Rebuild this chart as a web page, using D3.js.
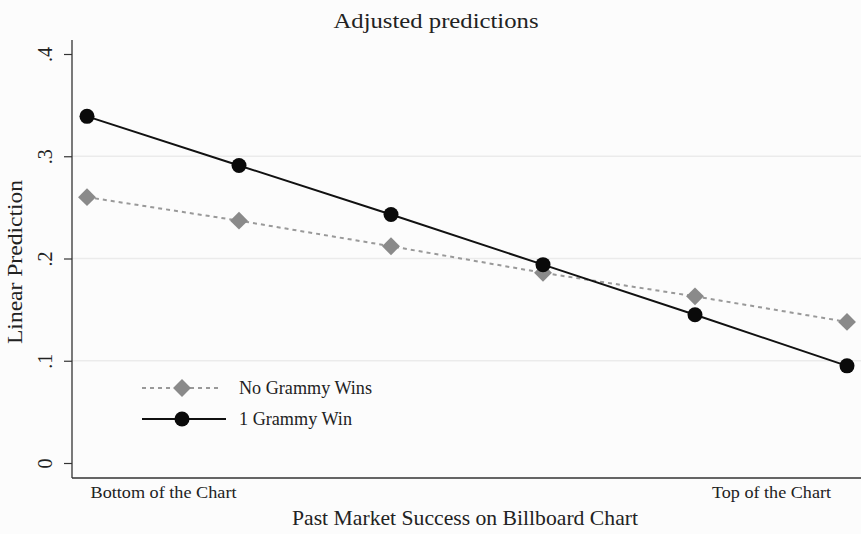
<!DOCTYPE html>
<html>
<head>
<meta charset="utf-8">
<script src="https://cdn.jsdelivr.net/npm/d3@7"></script>
<style>
  body { margin: 0; background: #fcfcfc; }
  text { font-family: "Liberation Serif", "DejaVu Serif", serif; fill: #222; }
</style>
</head>
<body>
<div id="chart"></div>
<script>
// chart data
var positions = [1, 2, 3, 4, 5, 6];
var noGrammy = [0.260, 0.237, 0.212, 0.186, 0.163, 0.138];
var oneGrammy = [0.339, 0.291, 0.243, 0.194, 0.145, 0.095];
var yTicks = [0, 0.1, 0.2, 0.3, 0.4];
var gridTicks = [0.1, 0.2, 0.3];
var xTickVals = [1.5, 5.5];
var xTickLabels = ["Bottom of the Chart", "Top of the Chart"];
var seriesNames = ["No Grammy Wins", "1 Grammy Win"];

var svgWidth = 861;
var svgHeight = 534;

var svg = d3.select("#chart")
    .append("svg")
    .attr("width", svgWidth)
    .attr("height", svgHeight);

var axisLeftX = 72;
var axisBottomY = 478;

var xScale = d3.scaleLinear().domain([1, 6]).range([87, 847]);
var yScale = d3.scaleLinear().domain([0, 0.4]).range([463, 54]);

// gridlines
svg.append("g").selectAll("line")
    .data(gridTicks)
    .enter()
    .append("line")
    .attr("x1", axisLeftX)
    .attr("x2", svgWidth)
    .attr("y1", d => yScale(d))
    .attr("y2", d => yScale(d))
    .attr("stroke", "#ebebeb")
    .attr("stroke-width", 1.5);

// y axis
var yAxis = svg.append("g")
    .attr("transform", `translate(${axisLeftX},0)`)
    .call(d3.axisLeft(yScale).tickValues(yTicks).tickSize(8).tickSizeOuter(0)
        .tickFormat(d => d === 0 ? "0" : d3.format(".1f")(d).replace(/^0/, "")));
yAxis.select(".domain").remove();
yAxis.selectAll(".tick line").attr("stroke", "#333").attr("stroke-width", 1.2);
yAxis.selectAll(".tick text")
    .attr("font-size", 20)
    .attr("font-family", "Liberation Serif")
    .attr("fill", "#222")
    .attr("transform", "rotate(-90)")
    .attr("x", 0)
    .attr("y", -20)
    .attr("dy", 0)
    .attr("text-anchor", "middle");
svg.append("line")
    .attr("x1", axisLeftX).attr("x2", axisLeftX)
    .attr("y1", 40).attr("y2", axisBottomY)
    .attr("stroke", "#333").attr("stroke-width", 1.3);

// x axis
var xAxis = svg.append("g")
    .attr("transform", `translate(0,${axisBottomY})`)
    .call(d3.axisBottom(xScale).tickValues(xTickVals).tickSize(0)
        .tickFormat((d, i) => xTickLabels[i]));
xAxis.select(".domain").remove();
xAxis.selectAll(".tick text")
    .attr("font-size", 17)
    .attr("font-family", "Liberation Serif")
    .attr("fill", "#222")
    .attr("y", 20)
    .attr("dy", 0)
    .attr("textLength", (d, i) => [146, 119][i])
    .attr("lengthAdjust", "spacingAndGlyphs");
svg.append("line")
    .attr("x1", axisLeftX).attr("x2", svgWidth)
    .attr("y1", axisBottomY).attr("y2", axisBottomY)
    .attr("stroke", "#333").attr("stroke-width", 1.3);

// titles
svg.append("text")
    .attr("x", 436).attr("y", 28)
    .attr("text-anchor", "middle")
    .attr("font-size", 21)
    .attr("textLength", 205)
    .attr("lengthAdjust", "spacingAndGlyphs")
    .text("Adjusted predictions");

svg.append("text")
    .attr("transform", "translate(22,262) rotate(-90)")
    .attr("text-anchor", "middle")
    .attr("font-size", 20)
    .attr("textLength", 164)
    .attr("lengthAdjust", "spacingAndGlyphs")
    .text("Linear Prediction");

svg.append("text")
    .attr("x", 465).attr("y", 525)
    .attr("text-anchor", "middle")
    .attr("font-size", 21)
    .attr("textLength", 346)
    .attr("lengthAdjust", "spacingAndGlyphs")
    .text("Past Market Success on Billboard Chart");

var line = d3.line()
    .x((d, i) => xScale(positions[i]))
    .y(d => yScale(d));

// No Grammy series
svg.append("path")
    .datum(noGrammy)
    .attr("d", line)
    .attr("fill", "none")
    .attr("stroke", "#999")
    .attr("stroke-width", 2)
    .attr("stroke-dasharray", "4,4");

var diamond = d3.symbol().type(d3.symbolSquare).size(160);
svg.append("g").selectAll("path")
    .data(noGrammy)
    .enter()
    .append("path")
    .attr("d", diamond)
    .attr("transform", (d, i) => `translate(${xScale(positions[i])},${yScale(d)}) rotate(45)`)
    .attr("fill", "#8a8a8a");

// 1 Grammy series
svg.append("path")
    .datum(oneGrammy)
    .attr("d", line)
    .attr("fill", "none")
    .attr("stroke", "#111")
    .attr("stroke-width", 2);

svg.append("g").selectAll("circle")
    .data(oneGrammy)
    .enter()
    .append("circle")
    .attr("cx", (d, i) => xScale(positions[i]))
    .attr("cy", d => yScale(d))
    .attr("r", 7.5)
    .attr("fill", "#0a0a0a");

// legend
var legend = svg.append("g");
var legY = [388, 419];

legend.append("line")
    .attr("x1", 142).attr("x2", 222)
    .attr("y1", legY[0]).attr("y2", legY[0])
    .attr("stroke", "#999").attr("stroke-width", 2)
    .attr("stroke-dasharray", "4,4");
legend.append("path")
    .attr("d", diamond)
    .attr("transform", `translate(182,${legY[0]}) rotate(45)`)
    .attr("fill", "#8a8a8a");

legend.append("line")
    .attr("x1", 142).attr("x2", 226)
    .attr("y1", legY[1]).attr("y2", legY[1])
    .attr("stroke", "#111").attr("stroke-width", 2);
legend.append("circle")
    .attr("cx", 182).attr("cy", legY[1]).attr("r", 7.5)
    .attr("fill", "#0a0a0a");

legend.selectAll("text")
    .data(seriesNames)
    .enter()
    .append("text")
    .attr("x", 239)
    .attr("y", (d, i) => legY[i] + 6)
    .attr("font-size", 18)
    .attr("textLength", (d, i) => [133, 113][i])
    .attr("lengthAdjust", "spacingAndGlyphs")
    .text(d => d);
</script>
</body>
</html>
